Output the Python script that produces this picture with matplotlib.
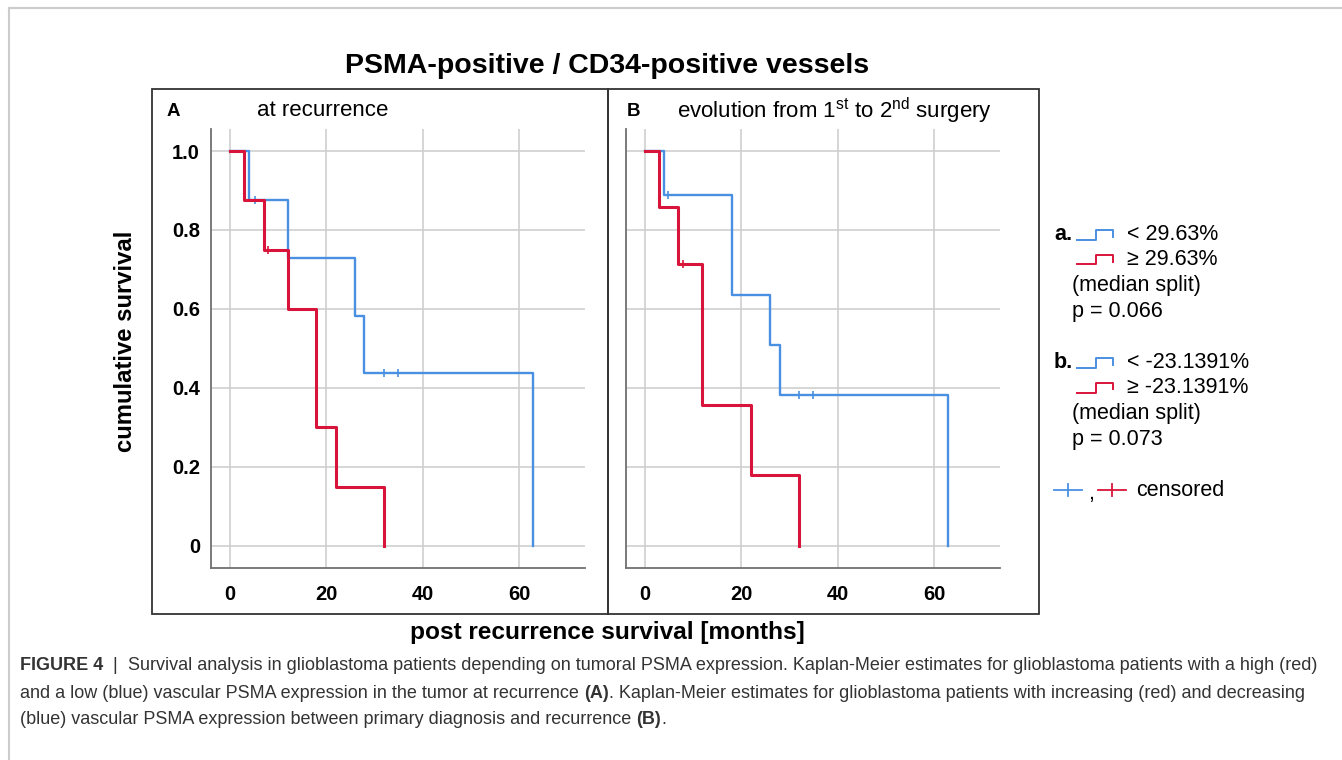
import matplotlib
matplotlib.use("Agg")
import matplotlib.pyplot as plt
from matplotlib.lines import Line2D
from matplotlib.patches import Rectangle

# ---------------- data ----------------
a_blue_t = [0, 3.9, 12.0, 26.0, 27.9, 62.9]
a_blue_s = [1.0, 0.875, 0.729, 0.583, 0.437, 0.0]
a_blue_cens_t = [5.1, 32.0, 34.9]
a_blue_cens_s = [0.875, 0.437, 0.437]

a_red_t = [0, 3.0, 7.0, 12.0, 17.9, 21.9, 32.0]
a_red_s = [1.0, 0.875, 0.75, 0.6, 0.3, 0.15, 0.0]
a_red_cens_t = [7.9]
a_red_cens_s = [0.75]

b_blue_t = [0, 3.9, 18.0, 26.0, 28.0, 63.0]
b_blue_s = [1.0, 0.889, 0.635, 0.508, 0.381, 0.0]
b_blue_cens_t = [4.8, 32.0, 35.0]
b_blue_cens_s = [0.889, 0.381, 0.381]

b_red_t = [0, 2.9, 6.9, 11.9, 22.0, 32.0]
b_red_s = [1.0, 0.857, 0.714, 0.357, 0.179, 0.0]
b_red_cens_t = [7.9]
b_red_cens_s = [0.714]

x_ticks = [0, 20, 40, 60]
y_ticks = [0, 0.2, 0.4, 0.6, 0.8, 1.0]
y_ticklabels = ["0", "0.2", "0.4", "0.6", "0.8", "1.0"]

title = "PSMA-positive / CD34-positive vessels"
panel_a_title = "at recurrence"
panel_b_title = r"evolution from 1$^{\rm st}$ to 2$^{\rm nd}$ surgery"
ylabel = "cumulative survival"
xlabel = "post recurrence survival [months]"
legend_a = ["< 29.63%", "\u2265 29.63%", "(median split)", "p = 0.066"]
legend_b = ["< -23.1391%", "\u2265 -23.1391%", "(median split)", "p = 0.073"]
caption_runs = [
    [("FIGURE 4", True), ("  |  ", False),
     ("Survival analysis in glioblastoma patients depending on tumoral PSMA expression. "
      "Kaplan-Meier estimates for glioblastoma patients with a high (red)", False)],
    [("and a low (blue) vascular PSMA expression in the tumor at recurrence ", False), ("(A)", True),
     (". Kaplan-Meier estimates for glioblastoma patients with increasing (red) and decreasing", False)],
    [("(blue) vascular PSMA expression between primary diagnosis and recurrence ", False),
     ("(B)", True), (".", False)],
]

# ---------------- style ----------------
plt.rcParams["font.family"] = ["Liberation Sans", "DejaVu Sans"]
plt.rcParams["mathtext.fontset"] = "custom"
plt.rcParams["mathtext.rm"] = "Liberation Sans"

BLUE = "#4A90E2"
RED = "#D9143A"
GRID = "#cfcfcf"
SPINE = "#707070"

W, H = 1342, 760
fig = plt.figure(figsize=(W / 100, H / 100), dpi=100)


def fx(px):
    return px / W


def fy(py):
    return 1 - py / H


# outer frame (top and left only)
fig.add_artist(Line2D([fx(9), fx(W)], [fy(8), fy(8)], color="#cccccc", lw=1.5))
fig.add_artist(Line2D([fx(9), fx(9)], [fy(8), fy(H)], color="#cccccc", lw=1.5))

# panel boxes
for x0, x1 in [(152, 608), (608, 1039)]:
    fig.add_artist(Rectangle((fx(x0), fy(614)), fx(x1) - fx(x0), fy(89) - fy(614),
                             transform=fig.transFigure, fill=False,
                             edgecolor="#333333", lw=1.3))

XLIM = (-3.9, 73.7)
YLIM = (-0.056, 1.055)
ax_w = 374 / W
ax_b = fy(568)
ax_h = (568 - 129.3) / H
axA = fig.add_axes([fx(211.2), ax_b, ax_w, ax_h])
axB = fig.add_axes([fx(626.0), ax_b, ax_w, ax_h])


def draw_panel(ax, blue_t, blue_s, bct, bcs, red_t, red_s, rct, rcs, show_y):
    ax.set_xlim(*XLIM)
    ax.set_ylim(*YLIM)
    for s in ["top", "right"]:
        ax.spines[s].set_visible(False)
    for s in ["left", "bottom"]:
        ax.spines[s].set_color(SPINE)
        ax.spines[s].set_linewidth(1.3)
    ax.set_xticks(x_ticks)
    ax.set_yticks(y_ticks)
    ax.grid(True, color=GRID, lw=1.2)
    ax.set_axisbelow(True)
    ax.tick_params(length=0)
    ax.tick_params(axis="x", pad=12, labelsize=14.5)
    ax.tick_params(axis="y", pad=8, labelsize=14.5)
    for lab in ax.get_xticklabels():
        lab.set_fontweight("bold")
    if show_y:
        ax.set_yticklabels(y_ticklabels, fontweight="bold")
    else:
        ax.set_yticklabels([])
    ax.step(blue_t, blue_s, where="post", color=BLUE, lw=1.7, zorder=3)
    ax.plot(bct, bcs, ls="none", marker="|", ms=6, mew=1.2, color=BLUE, zorder=3)
    ax.step(red_t, red_s, where="post", color=RED, lw=2.2, zorder=4)
    ax.plot(rct, rcs, ls="none", marker="|", ms=6, mew=1.2, color=RED, zorder=4)


draw_panel(axA, a_blue_t, a_blue_s, a_blue_cens_t, a_blue_cens_s,
           a_red_t, a_red_s, a_red_cens_t, a_red_cens_s, True)
draw_panel(axB, b_blue_t, b_blue_s, b_blue_cens_t, b_blue_cens_s,
           b_red_t, b_red_s, b_red_cens_t, b_red_cens_s, False)

# titles and labels
fig.text(fx(607), fy(66), title, ha="center", va="center", fontsize=20.5, fontweight="bold")
fig.text(fx(167), fy(111), "A", ha="left", va="center", fontsize=13.5, fontweight="bold")
fig.text(fx(257), fy(111), panel_a_title, ha="left", va="center", fontsize=16)
fig.text(fx(627), fy(111), "B", ha="left", va="center", fontsize=13.5, fontweight="bold")
fig.text(fx(677), fy(111), panel_b_title, ha="left", va="center", fontsize=16)
fig.text(fx(125), fy(341), ylabel, ha="center", va="center", rotation=90,
         fontsize=17.2, fontweight="bold")
fig.text(fx(607), fy(632), xlabel, ha="center", va="center", fontsize=17.6, fontweight="bold")


# legend
def step_icon(x0, yc, color):
    xs = [x0, x0 + 19, x0 + 19, x0 + 36, x0 + 36]
    ys = [yc + 5, yc + 5, yc - 5, yc - 5, yc + 2]
    fig.add_artist(Line2D([fx(x) for x in xs], [fy(y) for y in ys], color=color, lw=1.4))


LEG_FS = 15.5
for lab, y0, texts in [("a.", 235, legend_a), ("b.", 363, legend_b)]:
    fig.text(fx(1054), fy(y0), lab, ha="left", va="center", fontsize=LEG_FS, fontweight="bold")
    step_icon(1077, y0, BLUE)
    step_icon(1077, y0 + 24.5, RED)
    fig.text(fx(1127), fy(y0), texts[0], ha="left", va="center", fontsize=LEG_FS)
    fig.text(fx(1127), fy(y0 + 24.5), texts[1], ha="left", va="center", fontsize=LEG_FS)
    fig.text(fx(1072), fy(y0 + 51), texts[2], ha="left", va="center", fontsize=LEG_FS)
    fig.text(fx(1072), fy(y0 + 76), texts[3], ha="left", va="center", fontsize=LEG_FS)

# censored legend
yc = 490
for x0, col in [(1054, BLUE), (1098, RED)]:
    fig.add_artist(Line2D([fx(x0), fx(x0 + 28)], [fy(yc), fy(yc)], color=col, lw=1.3))
    fig.add_artist(Line2D([fx(x0 + 14), fx(x0 + 14)], [fy(yc - 6), fy(yc + 6)], color=col, lw=1.3))
fig.text(fx(1088), fy(yc + 3), ",", ha="left", va="center", fontsize=LEG_FS)
fig.text(fx(1136), fy(yc), "censored", ha="left", va="center", fontsize=LEG_FS)

# caption (font size fitted so that the first line spans the reference width)
CAP_COL = "#333333"
renderer = fig.canvas.get_renderer()


def run_width(parts, fs):
    total = 0
    for txt, bold in parts:
        t = fig.text(0, 0, txt, fontsize=fs, fontweight="bold" if bold else "normal")
        total += t.get_window_extent(renderer=renderer).width
        t.remove()
    return total


base = 12.0
cap_fs = base * 1296 / run_width(caption_runs[0], base)


def runs(x0, y, parts):
    x = x0
    for txt, bold in parts:
        t = fig.text(fx(x), fy(y), txt, ha="left", va="center", fontsize=cap_fs,
                     fontweight="bold" if bold else "normal", color=CAP_COL)
        x += t.get_window_extent(renderer=renderer).width


for y, parts in zip([666, 693, 719], caption_runs):
    runs(20, y, parts)

fig.savefig("out.png", dpi=100)
